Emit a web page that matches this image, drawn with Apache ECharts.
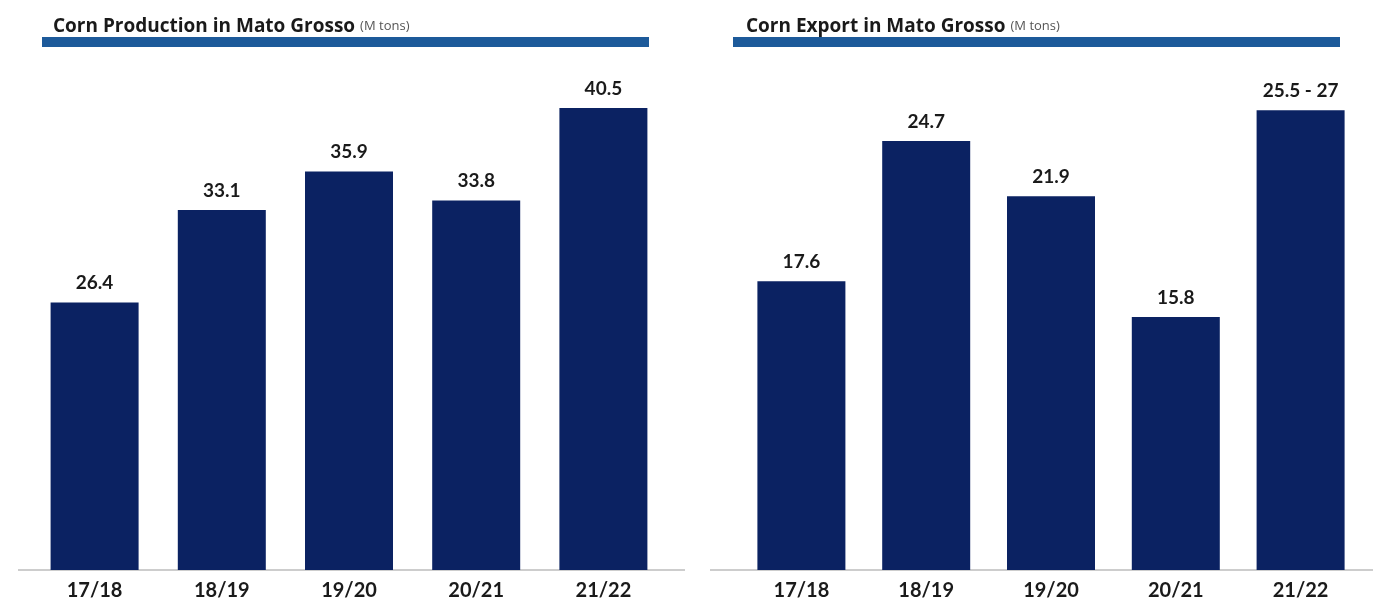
<!DOCTYPE html>
<html>
<head>
<meta charset="utf-8">
<script src="https://cdn.jsdelivr.net/npm/echarts@6/dist/echarts.min.js"></script>
<style>
  html, body { margin: 0; padding: 0; background: #ffffff; }
  #chart { width: 1373px; height: 601px; }
</style>
</head>
<body>
<div id="chart"></div>
<script>
// Crop years shared by both panels
const seasons = ['17/18', '18/19', '19/20', '20/21', '21/22'];

// Corn production in Mato Grosso, million tons
const productionValues = [26.4, 33.1, 35.9, 33.8, 40.5];

// Corn export in Mato Grosso, million tons (last season is a forecast range)
const exportValues = [17.6, 24.7, 21.9, 15.8];
const exportForecastRange = [25.5, 27];

const exportBars = exportValues.concat([(exportForecastRange[0] + exportForecastRange[1]) / 2]);
const exportLabels = exportValues.map(v => v.toFixed(1))
  .concat([exportForecastRange[0] + ' - ' + exportForecastRange[1]]);

const FONT = 'Lato, "Open Sans", sans-serif';
const TITLE_FONT = '"Open Sans", Lato, sans-serif';
const NAVY = '#0b2262';
const STRIPE = '#1d5a9a';
const AXIS_GREY = '#bdbdbd';

const chart = echarts.init(document.getElementById('chart'), null, { renderer: 'canvas' });

function titleBlock(main, unit, left) {
  return {
    left: left,
    top: 12,
    text: '{m|' + main + '} {u|' + unit + '}',
    textStyle: {
      fontWeight: 'normal',
      rich: {
        m: { fontFamily: TITLE_FONT, fontWeight: 'bold', fontSize: 19, color: '#1a1a1a' },
        u: { fontFamily: TITLE_FONT, fontWeight: 'normal', fontSize: 13, color: '#555555' }
      }
    }
  };
}

const categoryAxis = (gridIndex) => ({
  type: 'category',
  gridIndex: gridIndex,
  data: seasons,
  axisLine: { show: false },
  axisTick: { show: false },
  axisLabel: {
    margin: 11,
    fontFamily: FONT,
    fontWeight: 'bold',
    fontSize: 20,
    color: '#1a1a1a'
  }
});

const valueAxis = (gridIndex, min, max) => ({
  type: 'value',
  gridIndex: gridIndex,
  min: min,
  max: max,
  show: false,
  splitLine: { show: false }
});

const valueLabel = {
  show: true,
  position: 'top',
  distance: 10,
  fontFamily: FONT,
  fontWeight: 'bold',
  fontSize: 19,
  color: '#1a1a1a'
};

chart.setOption({
  animation: false,
  backgroundColor: '#ffffff',
  title: [
    titleBlock('Corn Production in Mato Grosso', '(M tons)', 48),
    titleBlock('Corn Export in Mato Grosso', '(M tons)', 741)
  ],
  graphic: [
    // blue stripes under the panel titles
    { type: 'rect', shape: { x: 42, y: 37, width: 607, height: 10 }, style: { fill: STRIPE } },
    { type: 'rect', shape: { x: 733, y: 37, width: 607, height: 10 }, style: { fill: STRIPE } },
    // baselines
    { type: 'line', shape: { x1: 18, y1: 570, x2: 685, y2: 570 }, style: { stroke: AXIS_GREY, lineWidth: 1.5 } },
    { type: 'line', shape: { x1: 710, y1: 570, x2: 1373, y2: 570 }, style: { stroke: AXIS_GREY, lineWidth: 1.5 } }
  ],
  grid: [
    { left: 31, top: 46, width: 636, height: 524 },
    { left: 739, top: 46, width: 624, height: 524 }
  ],
  xAxis: [categoryAxis(0), categoryAxis(1)],
  yAxis: [valueAxis(0, 7, 45), valueAxis(1, 3, 29.5)],
  series: [
    {
      name: 'Production',
      type: 'bar',
      xAxisIndex: 0,
      yAxisIndex: 0,
      data: productionValues,
      barWidth: 88,
      itemStyle: { color: NAVY },
      label: Object.assign({}, valueLabel, { formatter: p => p.value.toFixed(1) })
    },
    {
      name: 'Export',
      type: 'bar',
      xAxisIndex: 1,
      yAxisIndex: 1,
      data: exportBars,
      barWidth: 88,
      itemStyle: { color: NAVY },
      label: Object.assign({}, valueLabel, { formatter: p => exportLabels[p.dataIndex] })
    }
  ]
});
</script>
</body>
</html>
